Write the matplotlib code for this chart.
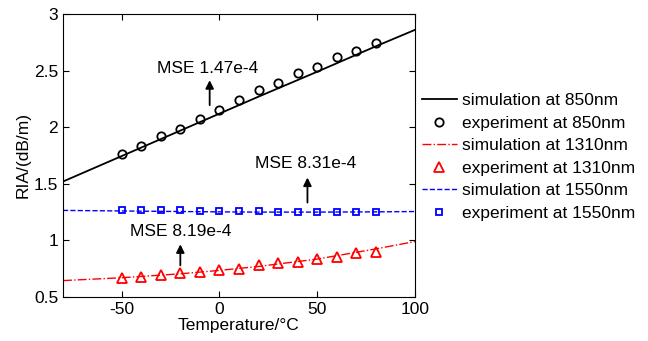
import matplotlib.pyplot as plt

plt.rcParams['font.family'] = ['Liberation Sans', 'DejaVu Sans']
plt.rcParams['axes.unicode_minus'] = False

temp_exp = [-50, -40, -30, -20, -10, 0, 10, 20, 30, 40, 50, 60, 70, 80]
exp_850  = [1.76, 1.83, 1.92, 1.98, 2.07, 2.15, 2.24, 2.33, 2.39, 2.48, 2.53, 2.62, 2.67, 2.74]
exp_1310 = [0.67, 0.68, 0.69, 0.71, 0.72, 0.74, 0.75, 0.78, 0.80, 0.81, 0.84, 0.85, 0.89, 0.90]
exp_1550 = [1.27, 1.265, 1.265, 1.265, 1.26, 1.26, 1.26, 1.26, 1.25, 1.25, 1.25, 1.25, 1.25, 1.25]

temp_sim = [-80, -50, -20, 0, 20, 50, 80, 100]
sim_850  = [1.52, 1.745, 1.97, 2.12, 2.27, 2.49, 2.715, 2.86]
sim_1310 = [0.645, 0.67, 0.705, 0.735, 0.77, 0.835, 0.925, 0.99]
sim_1550 = [1.265, 1.26, 1.255, 1.252, 1.25, 1.25, 1.252, 1.255]

fig = plt.figure(figsize=(6.48, 3.41), dpi=100)
ax = fig.add_axes([63/648, 44/341, 352/648, 283/341])

ax.plot(temp_sim, sim_850, 'k-', lw=1.3, label='simulation at 850nm')
ax.plot(temp_exp, exp_850, 'o', ms=6, mfc='none', mec='k', mew=1.3, label='experiment at 850nm')
ax.plot(temp_sim, sim_1310, '-.', color='red', lw=1.0, label='simulation at 1310nm')
ax.plot(temp_exp, exp_1310, '^', ms=7, mfc='none', mec='red', mew=1.3, label='experiment at 1310nm')
ax.plot(temp_sim, sim_1550, '--', color='blue', lw=1.0, label='simulation at 1550nm')
ax.plot(temp_exp, exp_1550, 's', ms=5, mfc='none', mec='blue', mew=1.3, label='experiment at 1550nm')

ax.set_xlim(-80, 100)
ax.set_ylim(0.5, 3)
ax.set_xticks([-50, 0, 50, 100])
ax.set_yticks([0.5, 1, 1.5, 2, 2.5, 3])
ax.set_yticklabels(['0.5', '1', '1.5', '2', '2.5', '3'])
ax.tick_params(direction='in', top=True, right=True, labelsize=12.5, length=4)
ax.set_xlabel('Temperature/°C', fontsize=12.5, labelpad=1)
ax.set_ylabel('RIA/(dB/m)', fontsize=12.5, labelpad=2)

arr = dict(arrowstyle='-|>', color='k', lw=1.3, mutation_scale=12)
ax.annotate('', xy=(-5, 2.44), xytext=(-5, 2.17), arrowprops=arr)
ax.text(-6, 2.52, 'MSE 1.47e-4', fontsize=12.5, ha='center', va='center')
ax.annotate('', xy=(45, 1.58), xytext=(45, 1.31), arrowprops=arr)
ax.text(44, 1.68, 'MSE 8.31e-4', fontsize=12.5, ha='center', va='center')
ax.annotate('', xy=(-20, 0.99), xytext=(-20, 0.755), arrowprops=arr)
ax.text(-20, 1.075, 'MSE 8.19e-4', fontsize=12.5, ha='center', va='center')

ax.legend(loc='center left', bbox_to_anchor=(1.0, 0.495), frameon=False, fontsize=12.5,
          handlelength=2.0, handletextpad=0.3, labelspacing=0.42, borderaxespad=0.0)

fig.savefig('out.png', dpi=100)
